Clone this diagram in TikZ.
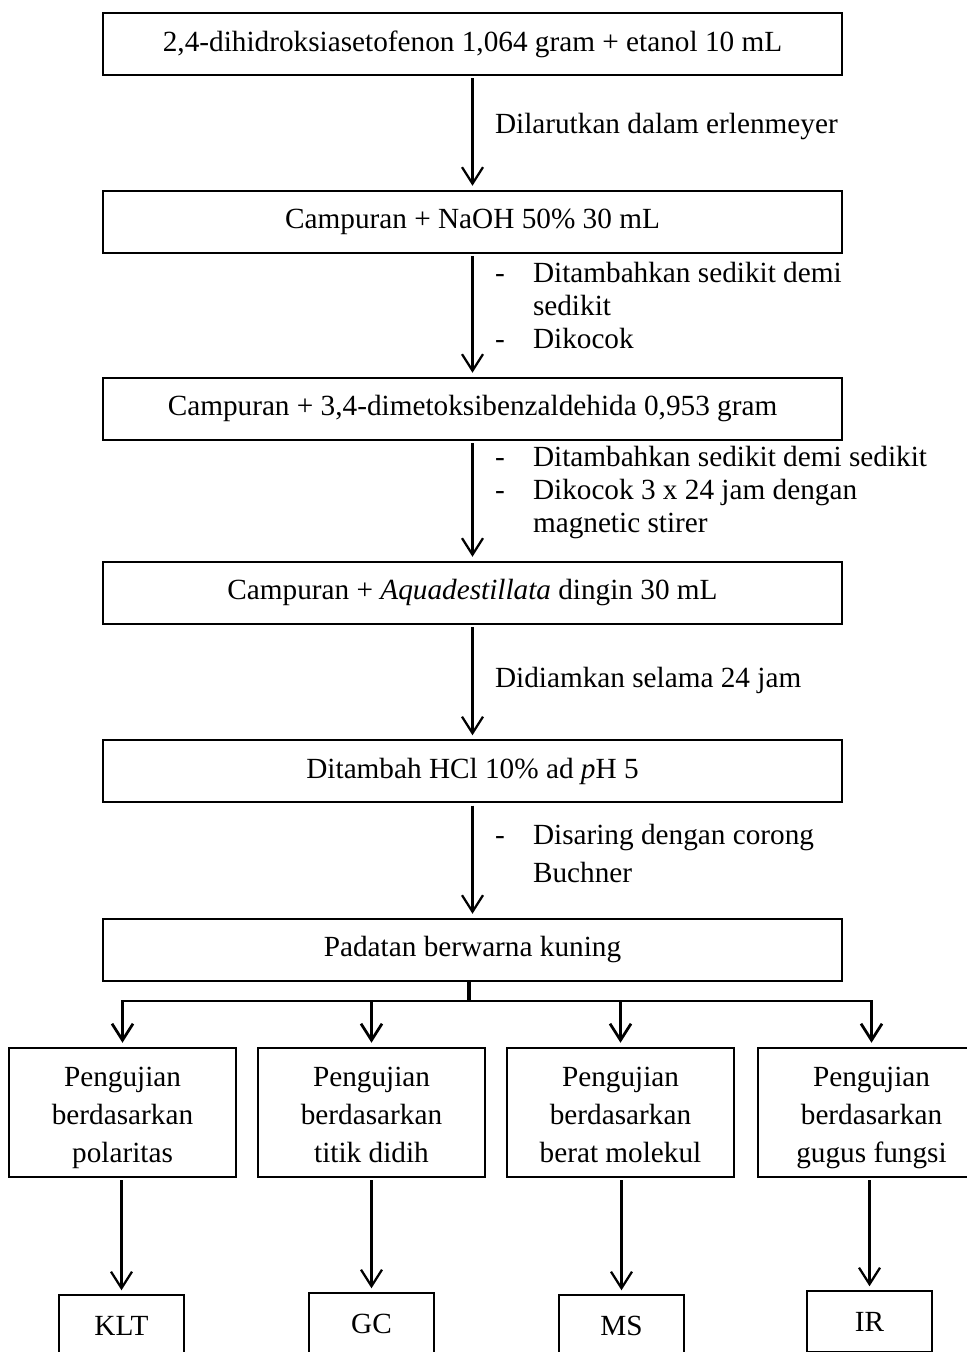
\documentclass[tikz,border=0pt]{standalone}
\usepackage{fontspec}
\setmainfont{Liberation Serif}
\usepackage{tikz}
\usetikzlibrary{arrows.meta, positioning}
\tikzset{every node/.style={font=\fontsize{11.7}{13.2}\selectfont}}
\newcommand{\topstrut}{\rule{0pt}{14.6pt}}

\begin{document}
\begin{tikzpicture}[x=0.4pt, y=-0.4pt, >={Straight Barb[length=6.6pt,width=8.4pt]}, line width=0.8pt,
  stepbox/.style={draw, minimum width=295.6pt, minimum height=24.8pt, inner sep=0pt},
  testbox/.style={draw, minimum width=90.8pt, minimum height=51.6pt, inner sep=0pt, align=center, font=\fontsize{11.7}{15.2}\selectfont},
  resbox/.style={draw, minimum width=50pt, minimum height=24.4pt, inner sep=0pt},
  note/.style={anchor=west, inner sep=0pt, align=left},
  flow/.style={->, line width=0.9pt, shorten <=1pt, shorten >=1.5pt}]
\useasboundingbox (0,0) rectangle (966,1352);
\node[stepbox] (s1) at (472.5,44) {2,4-dihidroksiasetofenon 1,064 gram + etanol 10 mL};
\node[stepbox, below=45.4pt of s1] (s2) {Campuran + NaOH 50\% 30 mL};
\node[stepbox, below=49.2pt of s2] (s3) {Campuran + 3,4-dimetoksibenzaldehida 0,953 gram};
\node[stepbox, below=48pt of s3] (s4) {Campuran + \textit{Aquadestillata} dingin 30 mL};
\node[stepbox, below=45.8pt of s4] (s5) {Ditambah HCl 10\% ad \textit{p}H 5};
\node[stepbox, below=45.8pt of s5] (s6) {Padatan berwarna kuning};
% keterangan di samping panah
\node[note] (n1) at (494,127) {Dilarutkan dalam erlenmeyer};
\node[note] (n2) at (494,308.5) {\begin{tabular}{@{}p{15.2pt}@{}l@{}}-&Ditambahkan sedikit demi\\&sedikit\\-&Dikocok\end{tabular}};
\node[note] (n3) at (494,493) {\begin{tabular}{@{}p{15.2pt}@{}l@{}}-&Ditambahkan sedikit demi sedikit\\-&Dikocok 3 x 24 jam dengan\\&magnetic stirer\end{tabular}};
\node[note] (n4) at (494,680) {Didiamkan selama 24 jam};
\node[note, font=\fontsize{11.7}{15.2}\selectfont] (n5) at (494,856) {\begin{tabular}{@{}p{15.2pt}@{}l@{}}-&Disaring dengan corong\\&Buchner\end{tabular}};
% pengujian
\node[testbox] (t1) at (122.5,1112) {\topstrut Pengujian\\berdasarkan\\polaritas\strut};
\node[testbox, right=8pt of t1] (t2) {\topstrut Pengujian\\berdasarkan\\titik didih\strut};
\node[testbox, right=8pt of t2] (t3) {\topstrut Pengujian\\berdasarkan\\berat molekul\strut};
\node[testbox, right=8.8pt of t3] (t4) {\topstrut Pengujian\\berdasarkan\\gugus fungsi\strut};
\node[resbox] (r1) at (121.5,1325.5) {KLT};
\node[resbox] (r2) at (371.5,1323.5) {GC};
\node[resbox] (r3) at (621.5,1325.5) {MS};
\node[resbox] (r4) at (869.5,1321.5) {IR};
\coordinate (fork) at (468.5,1001);
\foreach \a/\b in {s1/s2, s2/s3, s3/s4, s4/s5, s5/s6}
  \draw[flow] (\a) -- (\b);
\draw[line width=1.6pt] (s6.south -| fork) -- (fork);
\foreach \t in {t1,t2,t3,t4}
  \draw[flow, line width=1.1pt, shorten <=0pt] (fork) -| (\t.north);
\foreach \t/\r in {t1/r1, t2/r2, t3/r3, t4/r4}
  \draw[flow] (\r.north |- \t.south) -- (\r.north);
\end{tikzpicture}
\end{document}
